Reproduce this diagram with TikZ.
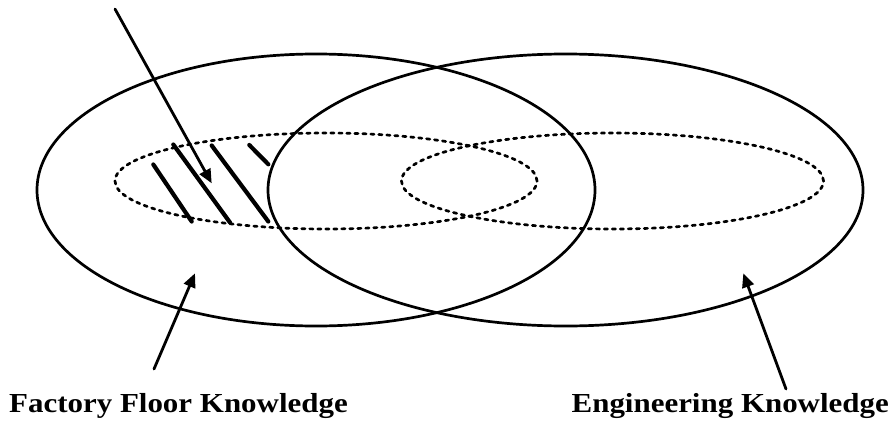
\documentclass[tikz,border=0pt]{standalone}
\usepackage{fontspec}
\setmainfont{Liberation Serif}
\usetikzlibrary{arrows.meta,shapes.geometric}
\tikzset{
  bigset/.style={ellipse,draw,line width=2.7pt,inner sep=0pt,
    minimum width=#1,minimum height=272pt},
  dotset/.style={ellipse,draw,line width=2.7pt,inner sep=0pt,
    dash pattern=on 3.3pt off 4.7pt,minimum width=422pt,minimum height=96pt},
  hatchline/.style={line width=4.2pt},
  pointer/.style={line width=2.8pt,-{Triangle[length=14pt,width=12pt]}},
  setlabel/.style={inner sep=0pt,font=\bfseries\fontsize{27.5}{30}\selectfont},
  every picture/.style={line cap=round,line join=round}
}
\newcommand{\widetext}[1]{\scalebox{1.125}[1]{#1}}

\begin{document}
\begin{tikzpicture}[x=1pt,y=-1pt]
  \useasboundingbox (0,0) rectangle (891,423);
  % the two knowledge sets
  \node[bigset=558pt] (floor) at (316,190) {};
  \node[bigset=595pt] (eng) at (565.5,190) {};
  % dotted inner sets
  \node[dotset] (floorcore) at (326,181) {};
  \node[dotset] (engcore) at (612.5,181) {};
  % hatching
  \draw[hatchline] (153.3,164.5) -- (191.7,221.5);
  \draw[hatchline] (173.3,144.5) -- (230,222.5);
  \draw[hatchline] (211.7,145.5) -- (268.3,221.5);
  \draw[hatchline] (249.3,145) -- (268.3,164.3);
  % labels
  \node[setlabel,anchor=base west] (floorlbl) at (9,412) {\widetext{Factory Floor Knowledge}};
  \node[setlabel,anchor=base east] (englbl) at (889,412) {\widetext{Engineering Knowledge}};
  % pointers
  \coordinate (hatchtail) at (115,9);
  \coordinate (hatchtip) at (211.7,183.3);
  \coordinate (floortail) at (154,369);
  \coordinate (floortip) at (195,273.3);
  \coordinate (engtail) at (786,389);
  \coordinate (engtip) at (743.3,273.3);
  \draw[pointer] (hatchtail) -- (hatchtip);
  \draw[pointer] (floortail) -- (floortip);
  \draw[pointer] (engtail) -- (engtip);
\end{tikzpicture}
\end{document}
